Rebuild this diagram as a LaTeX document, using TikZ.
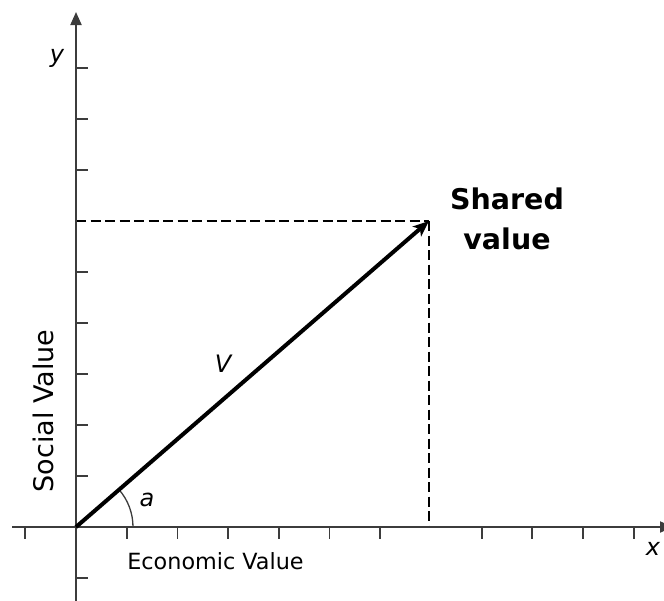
\documentclass[tikz,border=0pt]{standalone}
\usepackage{fontspec}
\setmainfont{DejaVu Sans}
\usetikzlibrary{arrows.meta,calc}
\definecolor{axisgray}{HTML}{3C3C3C}
\begin{document}
\begin{tikzpicture}[x=1pt,y=-1pt,
  axisline/.style={draw=axisgray,line width=2pt},
  tickline/.style={draw=axisgray,line width=1.8pt},
  vecline/.style={draw=black,line width=4pt,-{Stealth[length=16pt,width=13pt,inset=4pt]}},
  guide/.style={draw=black,line width=1.6pt,dash pattern=on 10pt off 4.5pt},
  lbl/.style={inner sep=0pt,font=\fontsize{24}{26}\selectfont\itshape},
  axtext/.style={inner sep=0pt,font=\fontsize{22.3}{24}\selectfont},
  bigtext/.style={inner sep=0pt,align=center,font=\fontsize{28.5}{40}\selectfont\bfseries}]
\useasboundingbox (0,0) rectangle (664,600);
\coordinate (O) at (76,527);
\coordinate (P) at (429,221);
\coordinate (Xl) at (12,527);
\coordinate (Xr) at (673,527);
\coordinate (Yb) at (76,602);
\coordinate (Yt) at (76,12);
\coordinate (Py) at (76,221);
\coordinate (Px) at (429,527);
% ticks
\foreach \k in {-1,1,2,3,4,5,6,8,9,10,11}
  \draw[tickline] ($(O)+(\k*50.7,0)$) -- ++(0,12);
\foreach \k in {-1,1,2,3,4,5,7,8,9}
  \draw[tickline] ($(O)+(0,-\k*51)$) -- ++(12,0);
% guides
\draw[guide] (Py) -- (P);
\draw[guide] (P) -- (Px);
% axes
\draw[axisline,-{Triangle[length=13pt,width=11pt]}] (Xl) -- (Xr);
\draw[axisline,-{Triangle[length=13pt,width=11pt]}] (Yb) -- (Yt);
% angle arc
\draw[axisgray,line width=1.3pt] ([shift={(57,0)}]O) arc[start angle=0,end angle=-40.9,radius=57];
% vector
\draw[vecline] (O) -- (P);
% labels
\node[lbl] (ylab) at (57,58) {y};
\node[lbl] (xlab) at (653,549) {x};
\node[lbl] (vlab) at (223,364) {V};
\node[lbl] (alab) at (147,500) {a};
\node[axtext] (econ) at (215.5,561) {Economic Value};
\node[axtext,font=\fontsize{27}{30}\selectfont,rotate=90] (soc) at (43,411) {Social Value};
\node[bigtext] (shared) at (507,219) {Shared\\value};
\end{tikzpicture}
\end{document}
